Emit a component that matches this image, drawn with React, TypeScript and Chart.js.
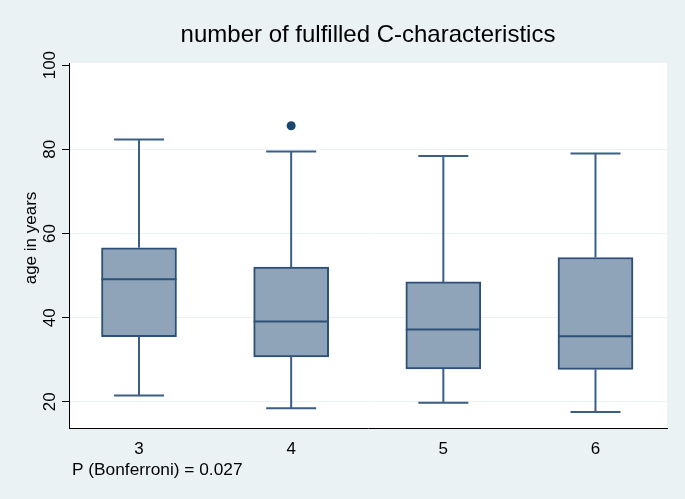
import React, { useEffect, useRef } from 'react';
import { Chart, registerables } from 'chart.js';

Chart.register(...registerables);

const groups = [3, 4, 5, 6];
const lowerWhisker = [21.5, 18.5, 19.8, 17.6];
const q1 = [35.5, 30.7, 27.8, 27.7];
const median = [49.1, 39.1, 37.2, 35.6];
const q3 = [56.6, 52.0, 48.5, 54.3];
const upperWhisker = [82.3, 79.5, 78.4, 79.0];
const outlierGroups = [4];
const outlierValues = [85.6];
const yTicks = [20, 40, 60, 80, 100];
const titleText = 'number of fulfilled C-characteristics';
const yTitleText = 'age in years';
const noteText = 'P (Bonferroni) = 0.027';

const FONT = '"Liberation Sans", Arial, sans-serif';
const BG = '#eaf2f3';
const BOX_FILL = 'rgb(143,164,184)';
const BOX_EDGE = 'rgb(44,80,120)';
const WHISKER = 'rgb(58,94,134)';
const OUTLIER = 'rgb(26,71,111)';

const boxPlugin = {
  id: 'boxParts',
  beforeDraw(chart: any) {
    const { ctx, chartArea: a, width, height } = chart;
    ctx.save();
    ctx.fillStyle = BG;
    ctx.fillRect(0, 0, width, height);
    ctx.fillStyle = '#ffffff';
    ctx.fillRect(a.left, a.top, a.right - a.left, a.bottom - a.top);
    ctx.restore();
  },
  afterDatasetsDraw(chart: any) {
    const { ctx } = chart;
    const xs = chart.scales.x;
    const ys = chart.scales.y;
    const meta = chart.getDatasetMeta(0);
    ctx.save();
    groups.forEach((g, i) => {
      const cx = xs.getPixelForValue(g);
      const bw = meta.data[i].width;
      const cap = bw * 0.667;
      const yq1 = ys.getPixelForValue(q1[i]);
      const yq3 = ys.getPixelForValue(q3[i]);
      const ylo = ys.getPixelForValue(lowerWhisker[i]);
      const yhi = ys.getPixelForValue(upperWhisker[i]);
      const ymed = ys.getPixelForValue(median[i]);
      ctx.strokeStyle = WHISKER;
      ctx.lineWidth = 2;
      ctx.beginPath();
      ctx.moveTo(cx, yq3);
      ctx.lineTo(cx, yhi);
      ctx.moveTo(cx - cap / 2, yhi);
      ctx.lineTo(cx + cap / 2, yhi);
      ctx.moveTo(cx, yq1);
      ctx.lineTo(cx, ylo);
      ctx.moveTo(cx - cap / 2, ylo);
      ctx.lineTo(cx + cap / 2, ylo);
      ctx.stroke();
      ctx.strokeStyle = BOX_EDGE;
      ctx.beginPath();
      ctx.moveTo(cx - bw / 2, ymed);
      ctx.lineTo(cx + bw / 2, ymed);
      ctx.stroke();
    });
    ctx.restore();
  },
  afterDraw(chart: any) {
    const { ctx, chartArea: a } = chart;
    const ys = chart.scales.y;
    ctx.save();
    ctx.fillStyle = '#000000';
    // title
    ctx.font = `24px ${FONT}`;
    ctx.textAlign = 'center';
    ctx.textBaseline = 'alphabetic';
    ctx.fillText(titleText, (a.left + a.right) / 2, 42);
    // y tick labels (rotated)
    ctx.font = `17px ${FONT}`;
    yTicks.forEach((v) => {
      const y = ys.getPixelForValue(v);
      ctx.save();
      ctx.translate(54.5, y);
      ctx.rotate(-Math.PI / 2);
      ctx.textAlign = 'center';
      ctx.fillText(String(v), 0, 0);
      ctx.restore();
    });
    // y title
    ctx.save();
    ctx.translate(36, 238);
    ctx.rotate(-Math.PI / 2);
    ctx.textAlign = 'center';
    ctx.fillText(yTitleText, 0, 0);
    ctx.restore();
    // note
    ctx.textAlign = 'left';
    ctx.font = `17.3px ${FONT}`;
    ctx.fillText(noteText, 72, 475);
    ctx.restore();
  },
};

export default function App() {
  const ref = useRef<HTMLCanvasElement | null>(null);
  useEffect(() => {
    if (!ref.current) return;
    const chart = new Chart(ref.current, {
      type: 'bar',
      data: {
        datasets: [
          {
            type: 'bar',
            data: groups.map((g, i) => ({ x: g, y: [q1[i], q3[i]] })) as any,
            backgroundColor: BOX_FILL,
            borderColor: BOX_EDGE,
            borderWidth: 2,
            borderSkipped: false,
            barThickness: 75,
          } as any,
          {
            type: 'scatter',
            data: outlierGroups.map((g, i) => ({ x: g, y: outlierValues[i] })),
            backgroundColor: OUTLIER,
            borderWidth: 0,
            pointRadius: 4.5,
          } as any,
        ],
      },
      options: {
        responsive: false,
        animation: false,
        layout: { padding: { left: 62, top: 63, right: 18, bottom: 29.8 } },
        plugins: {
          legend: { display: false },
          tooltip: { enabled: false },
          title: { display: false },
        },
        scales: {
          x: {
            type: 'linear',
            offset: false,
            min: 2.54,
            max: 6.47,
            afterBuildTicks: (s: any) => {
              s.ticks = groups.map((v) => ({ value: v }));
            },
            grid: { display: true, offset: false, drawOnChartArea: false, drawTicks: false, color: 'transparent' },
            border: { display: true, color: '#000000', width: 1 },
            ticks: {
              font: { family: FONT, size: 17 },
              color: '#000000',
              padding: 10,
              callback: (v: any) => String(v),
            },
          },
          y: {
            type: 'linear',
            min: 13.6,
            max: 100.5,
            afterBuildTicks: (s: any) => {
              s.ticks = yTicks.map((v) => ({ value: v }));
            },
            grid: {
              color: (c: any) => (c.tick && c.tick.value === 100 ? 'transparent' : BG),
              lineWidth: 1,
              drawTicks: true,
              tickLength: 7,
              tickColor: '#000000',
            },
            border: { display: true, color: '#000000', width: 1 },
            ticks: { display: false },
          },
        },
      } as any,
      plugins: [boxPlugin],
    });
    return () => chart.destroy();
  }, []);
  return (
    <div style={{ position: 'absolute', left: 0, top: 0, width: 685, height: 499, background: BG }}>
      <canvas ref={ref} width={685} height={499} />
    </div>
  );
}
